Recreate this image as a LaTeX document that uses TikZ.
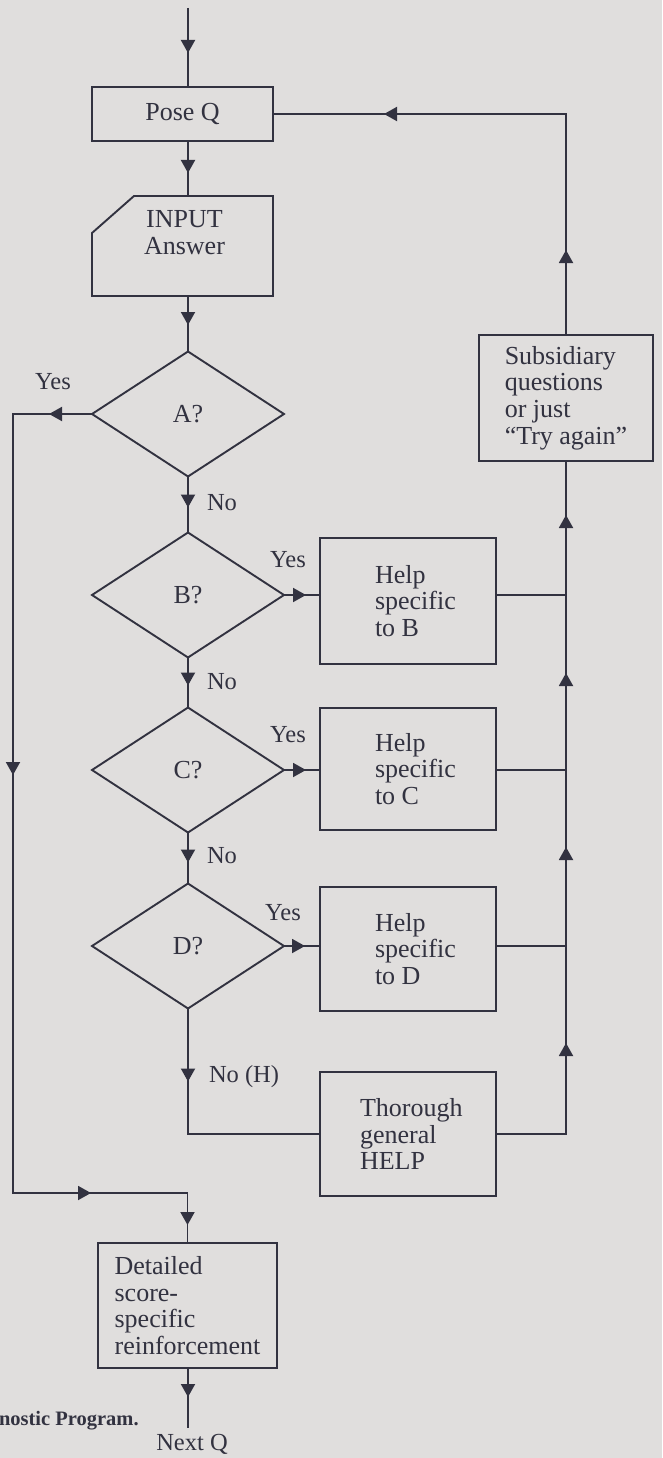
\documentclass[tikz,border=0pt]{standalone}
\usepackage{fontspec}
\setmainfont{Liberation Serif}
\usetikzlibrary{shapes.geometric,arrows.meta,decorations.markings,calc}
\definecolor{paper}{RGB}{224,222,221}
\definecolor{ink}{RGB}{50,50,64}
\begin{document}
\begin{tikzpicture}[x=1pt,y=-1pt,
  every node/.style={text=ink, font=\fontsize{26}{26.8}\selectfont, inner sep=0pt, outer sep=0pt},
  line/.style={draw=ink, line width=1.9pt},
  box/.style={line, rectangle, align=left},
  helpbox/.style={line, rectangle, minimum width=176pt, text width=66pt, align=flush left},
  dec/.style={line, diamond, minimum width=192pt, minimum height=125pt},
  lbl/.style={font=\fontsize{24.5}{26}\selectfont},
  arr/.style={postaction={decorate, decoration={markings, mark=at position #1 with {\arrow{Triangle[length=13pt,width=14pt]}}}}},
]
\fill[paper] (0,0) rectangle (662,1458);
\useasboundingbox (0,0) rectangle (662,1458);

% boxes
\node[box, minimum width=181pt, minimum height=54pt] (pose) at (182.5,114) {Pose Q};
\node[minimum width=181pt, minimum height=100pt] (input) at (182.5,246) {};
\draw[line] ($(input.north west)+(42,0)$) -- (input.north east) -- (input.south east)
  -- (input.south west) -- ($(input.north west)+(0,37)$) -- cycle;
\node[align=center] (inputtxt) at ($(input.center)+(2,-13)$) {INPUT\\Answer};

\node[dec] (A) at (188,414) {A?};
\node[dec] (B) at (188,595) {B?};
\node[dec] (C) at (188,770) {C?};
\node[dec] (D) at (188,946) {D?};

\node[helpbox, minimum height=126pt] (hB) at (408,601) {Help\\specific\\to B};
\node[helpbox, minimum height=122pt] (hC) at (408,769) {Help\\specific\\to C};
\node[helpbox, minimum height=124pt] (hD) at (408,949) {Help\\specific\\to D};
\node[helpbox, text width=96pt, minimum height=124pt] (hH) at (408,1134) {Thorough\\general\\HELP};
\node[box, minimum width=174pt, minimum height=126pt] (sub) at (566,398) {Subsidiary\\questions\\or just\\“Try again”};
\node[box, minimum width=179pt, minimum height=125pt] (det) at (187.5,1305.5) {Detailed\\score-\\specific\\reinforcement};

\node[lbl] (next) at (192,1444) {Next Q};
\node[font=\bfseries\fontsize{20.5}{22}\selectfont, anchor=west] (cap) at (-1,1421) {nostic Program.};

% labels
\node[lbl] (yA) at (53,382) {Yes};
\node[lbl] (yB) at (288,560) {Yes};
\node[lbl] (yC) at (288,735) {Yes};
\node[lbl] (yD) at (283,913) {Yes};
\node[lbl, anchor=west] (nA) at (207,503) {No};
\node[lbl, anchor=west] (nB) at (207,682) {No};
\node[lbl, anchor=west] (nC) at (207,856) {No};
\node[lbl, anchor=west] (nD) at (209,1077) {No (H)};

% coordinates
\coordinate (start) at (188,8);
\coordinate (end) at (188,1428);
\coordinate (lc) at (13,1193);

% main column
\draw[line, arr=45pt] (start) -- (start |- pose.north);
\draw[line, arr=32pt] (start |- pose.south) -- (start |- input.north);
\draw[line, arr=29pt] (start |- input.south) -- (A.north);
\draw[line, arr=31pt] (A.south) -- (B.north);
\draw[line, arr=28pt] (B.south) -- (C.north);
\draw[line, arr=30pt] (C.south) -- (D.north);
\draw[line, arr=73pt] (D.south) |- (hH.west);
\draw[line, arr=29pt] (det.south -| start) -- (end);

% yes branches
\draw[line, arr=22pt] (B.east) -- (B.east -| hB.west);
\draw[line, arr=22pt] (C.east) -- (C.east -| hC.west);
\draw[line, arr=21pt] (D.east) -- (D.east -| hD.west);
\draw[line, arr=43pt, arr=440pt, arr=936pt, arr=1064.5pt] (A.west) -| (lc) -| (det.north);

% return bus
\draw[line] (B.east -| hB.east) -- (B.east -| sub.south);
\draw[line] (C.east -| hC.east) -- (C.east -| sub.south);
\draw[line] (D.east -| hD.east) -- (D.east -| sub.south);
\draw[line, arr=161pt, arr=357pt, arr=531pt, arr=689pt] (hH.east) -- (hH.east -| sub.south) -- (sub.south);
\draw[line, arr=85pt, arr=403pt] (sub.north) -- (sub.north |- pose.east) -- (pose.east);
\end{tikzpicture}
\end{document}
